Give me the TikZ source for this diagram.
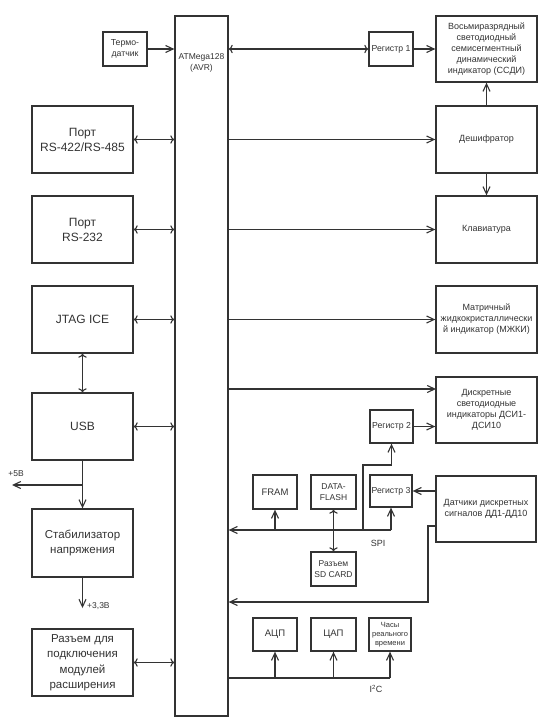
\documentclass[tikz,border=0pt]{standalone}
\usepackage{fontspec}
\setmainfont{Liberation Sans}
\usetikzlibrary{arrows.meta}

\definecolor{ink}{HTML}{333333}

\tikzset{
  blk/.style={draw=ink, line width=1.3pt, inner sep=1pt, align=center, text=ink},
  big/.style={blk, minimum width=101pt, minimum height=67pt, font=\fontsize{12}{15}\selectfont},
  wide/.style={blk, minimum width=101pt, minimum height=66pt, font=\fontsize{9}{11}\selectfont},
  small/.style={blk, minimum width=44pt, minimum height=34pt, font=\fontsize{8.7}{10.5}\selectfont},
  wire/.style={draw=ink, line width=1.1pt, arrows={-Straight Barb[length=7.5pt,width=7pt]}},
  lbl/.style={text=ink, font=\fontsize{8.5}{10}\selectfont, inner sep=1pt}
}

\begin{document}
\begin{tikzpicture}[x=1pt,y=-1pt]
\useasboundingbox (0,0) rectangle (539,719);

% microcontroller
\node (mcu) at (201.5,366) [blk, minimum width=53pt, minimum height=700pt] {};
\node (mcutxt) at (201.5,63) [lbl, align=center, font=\fontsize{8.5}{10.5}\selectfont] {ATMega128\\(AVR)};

% left column
\node (thermo) at (125,49) [small] {Термо-\\датчик};
\node (rs485) at (82.5,139.5) [big] {Порт\\RS-422/RS-485};
\node (rs232) at (82.5,229.5) [big] {Порт\\RS-232};
\node (jtag) at (82.5,319.5) [big] {JTAG ICE};
\node (usb) at (82.5,426.5) [big] {USB};
\node (stab) at (82.5,543) [big, minimum height=68pt, font=\fontsize{11.5}{15}\selectfont] {Стабилизатор\\напряжения};
\node (ext) at (82.5,662.5) [big, font=\fontsize{11.5}{15.5}\selectfont] {Разъем для\\подключения\\модулей\\расширения};

% right column
\node (reg1) at (391,49) [small] {Регистр 1};
\node (ssdi) at (486.5,49) [wide] {Восьмиразрядный\\светодиодный\\семисегментный\\динамический\\индикатор (ССДИ)};
\node (desh) at (486.5,139.5) [wide, minimum height=67pt] {Дешифратор};
\node (klav) at (486.5,229.5) [wide, minimum height=67pt] {Клавиатура};
\node (mzhki) at (486.5,319.5) [wide, minimum height=67pt] {Матричный\\жидкокристаллически\\й индикатор (МЖКИ)};
\node (dsi) at (486.5,410) [wide] {Дискретные\\светодиодные\\индикаторы ДСИ1-\\ДСИ10};
\node (reg2) at (391.5,426.5) [small, minimum width=43pt, minimum height=33pt] {Регистр 2};
\node (reg3) at (391,491) [small, minimum width=42pt, minimum height=32pt] {Регистр 3};
\node (sens) at (486,509) [wide, minimum width=100pt] {Датчики дискретных\\сигналов ДД1-ДД10};

% SPI devices
\node (fram) at (275,492) [small, font=\fontsize{9.5}{11}\selectfont] {FRAM};
\node (flash) at (333.5,492) [small, minimum width=45pt, font=\fontsize{8.5}{10.5}\selectfont] {DATA-\\FLASH};
\node (sdcard) at (333.5,569) [small, minimum width=45pt, font=\fontsize{8.5}{10.5}\selectfont] {Разъем\\SD CARD};

% I2C devices
\node (adc) at (275,634.5) [small, minimum height=33pt, font=\fontsize{9.5}{11}\selectfont] {АЦП};
\node (dac) at (333.5,634.5) [small, minimum width=45pt, minimum height=33pt, font=\fontsize{9.5}{11}\selectfont] {ЦАП};
\node (rtc) at (390,634.5) [small, minimum width=42pt, minimum height=33pt, font=\fontsize{7.5}{9}\selectfont] {Часы\\реального\\времени};

% left links
\draw [wire] (thermo) -- (thermo -| mcu.west);
\draw [wire, <->] (rs485) -- (rs485 -| mcu.west);
\draw [wire, <->] (rs232) -- (rs232 -| mcu.west);
\draw [wire, <->] (jtag) -- (jtag -| mcu.west);
\draw [wire, <->] (usb) -- (usb -| mcu.west);
\draw [wire, <->] (ext) -- (ext -| mcu.west);
\draw [wire, <->] (jtag) -- (usb);
\draw [wire] (usb) -- (stab);

\coordinate (p5) at (82.5,485);
\coordinate (v5) at (12,485);
\draw [wire] (p5) -- (v5);
\node (lbl5) at (16,474) [lbl] {+5В};

\coordinate (v33) at (82.5,608);
\draw [wire] (stab) -- (v33);
\node (lbl33) at (86,606) [lbl, anchor=west] {+3,3В};

% right links
\draw [wire, <->] (reg1 -| mcu.east) -- (reg1);
\draw [wire] (reg1) -- (ssdi);
\draw [wire] (desh -| mcu.east) -- (desh);
\draw [wire] (desh) -- (ssdi);
\draw [wire] (desh) -- (klav);
\draw [wire] (klav -| mcu.east) -- (klav);
\draw [wire] (mzhki -| mcu.east) -- (mzhki);
\coordinate (dd) at (436,389);
\draw [wire] (dd -| mcu.east) -- (dd);
\draw [wire] (reg2) -- (reg2 -| dsi.west);
\draw [wire] (sens.west |- reg3) -- (reg3);

% SPI bus
\coordinate (spi) at (391,530);
\coordinate (spj) at (363,530);
\coordinate (spk) at (363,465);
\draw [wire] (spi) -- (spi -| mcu.east);
\draw [wire] (spi) -- (reg3);
\draw [wire] (spj) -- (spk) -| (reg2);
\draw [wire] (fram.south |- spi) -- (fram);
\draw [wire, <->] (flash) -- (sdcard);
\node (spilbl) at (378,543) [lbl, font=\fontsize{9}{11}\selectfont] {SPI};

% sensors to MCU
\coordinate (sa) at (428,526);
\coordinate (sb) at (428,602);
\draw [wire] (sens.west |- sa) -- (sa) -- (sb) -- (sb -| mcu.east);

% I2C bus
\coordinate (i2c) at (390,678);
\draw [wire, -] (mcu.east |- i2c) -- (i2c);
\draw [wire] (i2c) -- (rtc);
\draw [wire] (adc.south |- i2c) -- (adc);
\draw [wire] (dac.south |- i2c) -- (dac);
\node (i2clbl) at (376,689) [lbl, font=\fontsize{9}{11}\selectfont] {I\textsuperscript{2}C};
\end{tikzpicture}
\end{document}
